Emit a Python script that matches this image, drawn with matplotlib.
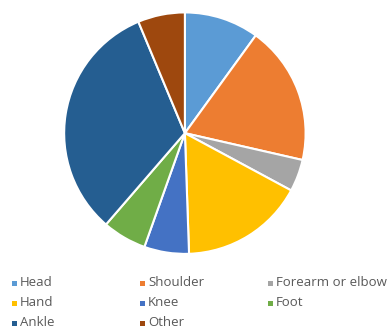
import matplotlib
matplotlib.use("Agg")
import matplotlib.pyplot as plt
from matplotlib.patches import Rectangle

labels = ["Head", "Shoulder", "Forearm or elbow", "Hand", "Knee", "Foot", "Ankle", "Other"]
values = [10.0, 18.6, 4.3, 16.6, 6.0, 5.9, 32.4, 6.3]
colors = ["#5B9BD5", "#ED7D31", "#A5A5A5", "#FFC000", "#4472C4", "#70AD47", "#255E91", "#9E480E"]

fig = plt.figure(figsize=(3.88, 3.30), dpi=100, facecolor="white")
ax = fig.add_axes([0.162, 0.227, 0.629, 0.739])
ax.pie(values, colors=colors, startangle=90, counterclock=False,
       wedgeprops=dict(edgecolor="white", linewidth=1.5))
ax.set_xlim(-1.01, 1.01)
ax.set_ylim(-1.01, 1.01)
ax.set_aspect("equal")

# legend, 3 per row, laid out by hand
col_x = [12, 140, 268]
row_y = [283, 303, 323]
W, H = 388, 330
for i, (lab, c) in enumerate(zip(labels, colors)):
    r, k = divmod(i, 3)
    x = col_x[k]
    y = row_y[r]
    fig.add_artist(Rectangle(((x) / W, 1 - (y + 2.5) / H), 5 / W, 5 / H,
                             transform=fig.transFigure, facecolor=c, edgecolor="none"))
    fig.text((x + 8) / W, 1 - y / H, lab, fontsize=9.5, color="#595959",
             family="Open Sans", va="center", ha="left")

fig.savefig("out.png", dpi=100, facecolor="white")
